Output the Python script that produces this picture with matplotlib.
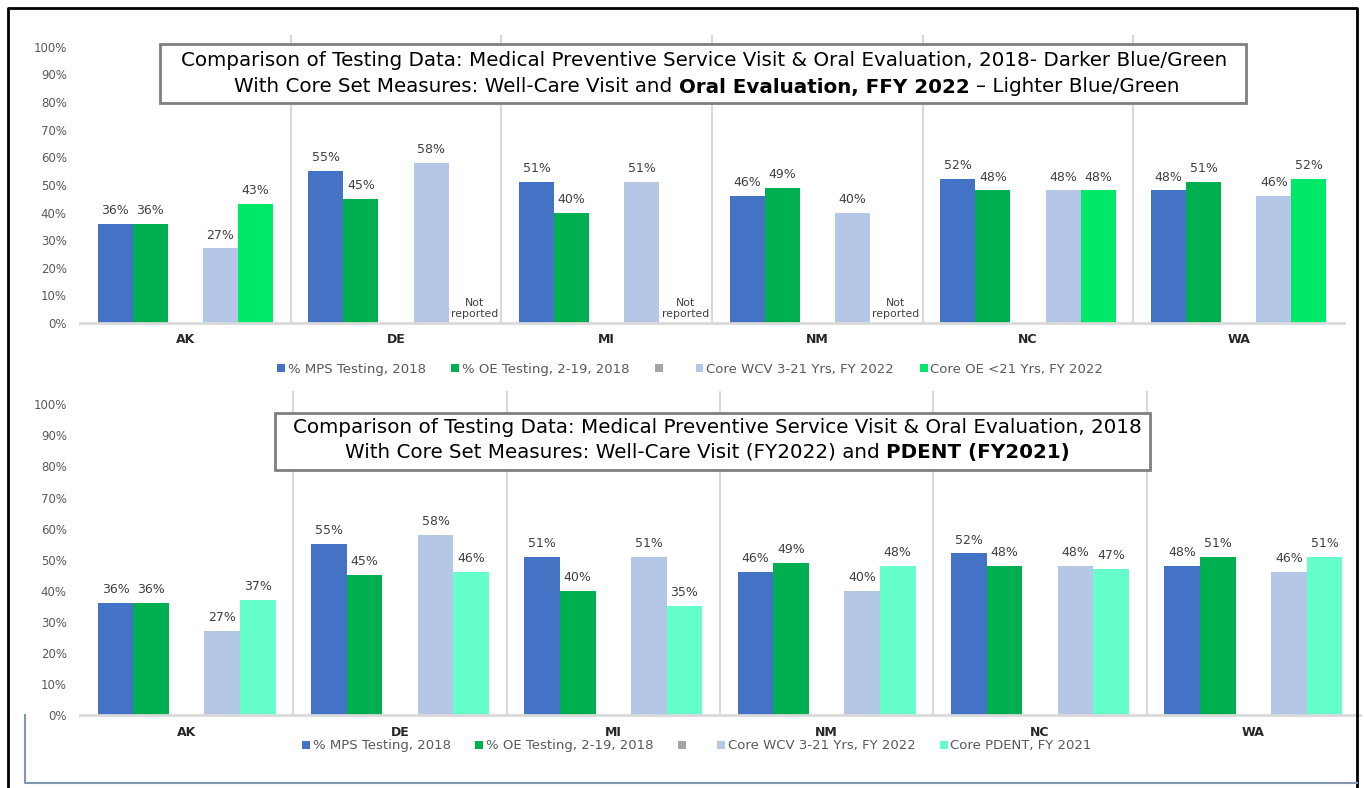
import matplotlib
matplotlib.use('Agg')
import matplotlib.pyplot as plt
import numpy as np
from matplotlib.patches import Rectangle, Patch
from matplotlib.lines import Line2D

# ---------------- data ----------------
states = ['AK', 'DE', 'MI', 'NM', 'NC', 'WA']
mps_2018 = [36, 55, 51, 46, 52, 48]
oe_2018 = [36, 45, 40, 49, 48, 51]
wcv_2022 = [27, 58, 51, 40, 48, 46]
core_oe_2022 = [43, None, None, None, 48, 52]
pdent_2021 = [37, 46, 35, 48, 47, 51]

top_labels = ['% MPS Testing, 2018', '% OE Testing, 2-19, 2018', ' ',
              'Core WCV 3-21 Yrs, FY 2022', 'Core OE <21 Yrs, FY 2022']
bottom_labels = ['% MPS Testing, 2018', '% OE Testing, 2-19, 2018', ' ',
                 'Core WCV 3-21 Yrs, FY 2022', 'Core PDENT, FY 2021']
ytick_vals = [0, 10, 20, 30, 40, 50, 60, 70, 80, 90, 100]
not_reported_text = 'Not\nreported'

top_title_1 = [('Comparison of Testing Data: Medical Preventive Service Visit & Oral Evaluation, 2018- Darker Blue/Green', 'normal')]
top_title_2 = [('With Core Set Measures: Well-Care Visit and', 'normal'),
               ('Oral Evaluation, FFY 2022', 'bold'),
               ('\u2013 Lighter Blue/Green', 'normal')]
bot_title_1 = [('Comparison of Testing Data: Medical Preventive Service Visit & Oral Evaluation, 2018', 'normal')]
bot_title_2 = [('With Core Set Measures: Well-Care Visit (FY2022) and', 'normal'),
               ('PDENT (FY2021)', 'bold')]

# ---------------- style ----------------
C_BLUE = '#4472C4'
C_GREEN = '#00B050'
C_GREY = '#A5A5A5'
C_LBLUE = '#B4C7E7'
C_BGREEN = '#00E868'
C_CYAN = '#66FFCC'
LABEL_C = '#404040'
TICK_C = '#595959'
SEP_C = '#D9D9D9'

plt.rcParams['font.family'] = ['DejaVu Sans']

W, H = 1364, 788
fig = plt.figure(figsize=(W / 100, H / 100), dpi=100)


def px_rect(l, t, r, b):
    return [l / W, 1 - b / H, (r - l) / W, (b - t) / H]


YMAX = 1.043


def draw_chart(ax, series, colors, labels, legend_center, label_pad, colspace):
    x = np.arange(len(states))
    bw = 1 / 6
    offs = [-2, -1, 0, 1, 2]
    handles = []
    for i, (vals, c, lab) in enumerate(zip(series, colors, labels)):
        if vals is None:
            handles.append(Patch(facecolor=c, label=lab))
            continue
        h = [np.nan if v is None else v / 100 for v in vals]
        cont = ax.bar(x + offs[i] * bw, h, bw, color=c, label=lab, linewidth=0, zorder=2)
        handles.append(cont)
        ax.bar_label(cont, labels=['' if v is None else f'{v}%' for v in vals],
                     padding=5, fontsize=9, color=LABEL_C)
        for j, v in enumerate(vals):
            if v is None:
                ax.annotate(not_reported_text, (x[j] + offs[i] * bw, 0), xytext=(6, 3),
                            textcoords='offset points', ha='center', va='bottom',
                            fontsize=7.8, color=LABEL_C, linespacing=1.15)
    ax.vlines(np.arange(0.5, len(states) - 0.5, 1), 0, YMAX, color=SEP_C, lw=1.5, zorder=1)
    ax.set_xlim(-0.5, len(states) - 0.5)
    ax.set_ylim(0, YMAX)
    ax.set_yticks([v / 100 for v in ytick_vals])
    ax.set_yticklabels([f'{v}%' for v in ytick_vals])
    ax.set_xticks(x)
    ax.set_xticklabels(states, fontweight='bold')
    for s in ['top', 'right', 'left']:
        ax.spines[s].set_visible(False)
    ax.spines['bottom'].set_color(SEP_C)
    ax.spines['bottom'].set_linewidth(2)
    ax.tick_params(axis='y', length=0, pad=9.5, labelsize=8.5, labelcolor=TICK_C)
    ax.tick_params(axis='x', length=0, pad=label_pad, labelsize=9, labelcolor='#262626')
    ax.legend(handles=handles, labels=labels, loc='center', ncol=5, frameon=False,
              bbox_to_anchor=(legend_center[0] / W, 1 - legend_center[1] / H),
              bbox_transform=fig.transFigure, handlelength=0.6, handleheight=0.6,
              handletextpad=0.2, columnspacing=colspace, fontsize=9.5,
              labelcolor=TICK_C)


ax1 = fig.add_axes(px_rect(80, 323 - 288, 1344, 323))
draw_chart(ax1, [mps_2018, oe_2018, None, wcv_2022, core_oe_2022],
           [C_BLUE, C_GREEN, C_GREY, C_LBLUE, C_BGREEN], top_labels, (690, 369), 7.5, 1.95)

ax2 = fig.add_axes(px_rect(80, 715 - 324, 1360, 715))
draw_chart(ax2, [mps_2018, oe_2018, None, wcv_2022, pdent_2021],
           [C_BLUE, C_GREEN, C_GREY, C_LBLUE, C_CYAN], bottom_labels, (697, 746), 8, 1.85)

# ---------------- title boxes ----------------
for (l, t, r, b) in [(160, 44, 1246, 103), (275, 413, 1150, 470)]:
    fig.add_artist(Rectangle((l / W, 1 - b / H), (r - l) / W, (b - t) / H,
                             transform=fig.transFigure, facecolor='white',
                             edgecolor='#7F7F7F', lw=2, zorder=5))

renderer = fig.canvas.get_renderer()
TITLE_FS = 14.3


def rich_line(cx, cy, pieces, size):
    texts = []
    for s, w in pieces:
        t = fig.text(0, 1 - cy / H, s, fontsize=size, fontweight=w, va='center',
                     ha='left', zorder=6, color='black')
        texts.append(t)
    probe = fig.text(0, 0, 'x x', fontsize=size)
    probe2 = fig.text(0, 0, 'xx', fontsize=size)
    space = probe.get_window_extent(renderer).width - probe2.get_window_extent(renderer).width
    probe.remove()
    probe2.remove()
    widths = [t.get_window_extent(renderer).width for t in texts]
    total = sum(widths) + space * (len(texts) - 1)
    xpos = cx - total / 2
    for t, w in zip(texts, widths):
        t.set_x(xpos / W)
        xpos += w + space


rich_line(704, 61, top_title_1, TITLE_FS)
rich_line(707, 87, top_title_2, TITLE_FS)
rich_line(717, 428, bot_title_1, TITLE_FS)
rich_line(707, 452, bot_title_2, TITLE_FS)

# ---------------- frame lines ----------------
fig.add_artist(Line2D([8 / W, 8 / W, 1357 / W, 1357 / W], [0, 1 - 8 / H, 1 - 8 / H, 0],
                      transform=fig.transFigure, color='black', lw=2, zorder=7))
fig.add_artist(Line2D([25 / W, 25 / W, 1357 / W], [1 - 715 / H, 1 - 783 / H, 1 - 783 / H],
                      transform=fig.transFigure, color='#8497B0', lw=1.5, zorder=7))

fig.savefig('out.png', dpi=100)
